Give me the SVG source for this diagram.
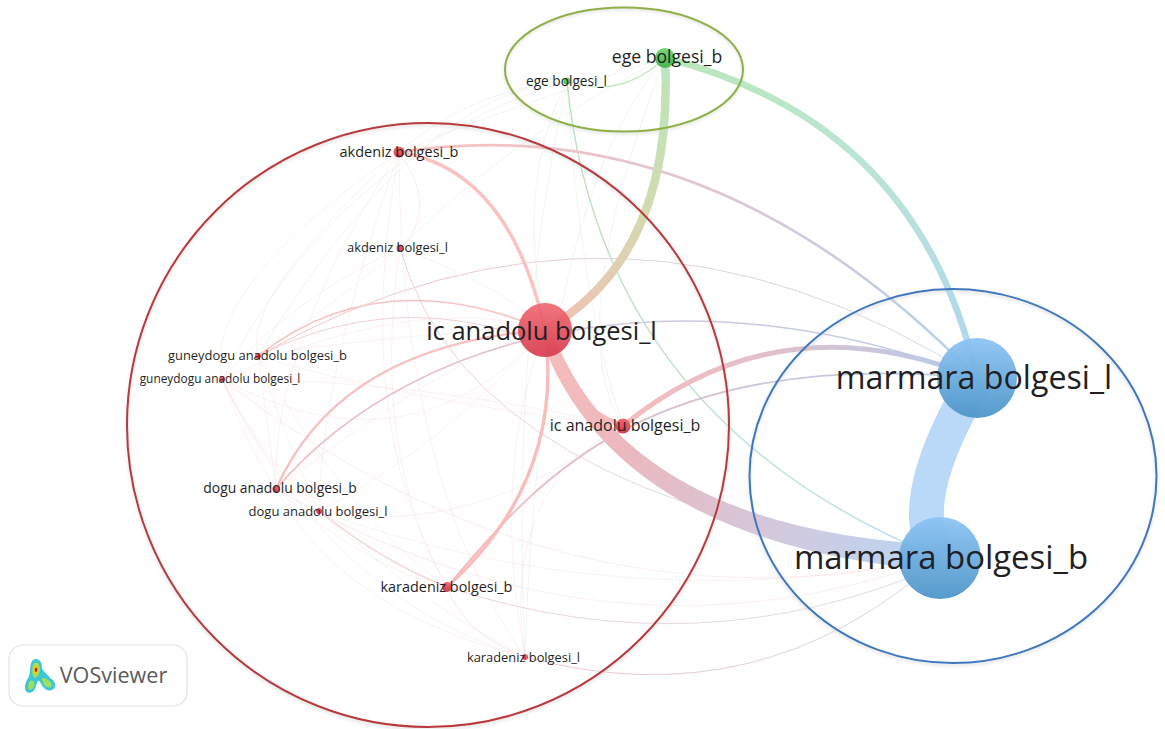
<svg xmlns="http://www.w3.org/2000/svg" width="1165" height="729" viewBox="0 0 1165 729">
<style>
text{font-family:"Open Sans","Noto Sans","Liberation Sans",sans-serif;fill:#1f1f24;text-anchor:middle}
.e{fill:none;stroke-linecap:butt}
.f{fill:none;stroke:#f2c4c4;stroke-width:1;stroke-opacity:.22}
.g{fill:none;stroke:#b6d8ae;stroke-width:1;stroke-opacity:.2}
.t{fill:none;stroke:#e9a9ae;stroke-width:1.1;stroke-opacity:.5}
.l{stroke-opacity:.18}
.ring{fill:none;stroke-width:2}
.sh{fill:none;stroke:#8a8a8a;stroke-width:3;stroke-opacity:.2;filter:url(#blur)}
.r{fill:url(#nr)}.b{fill:url(#nb)}.n{fill:url(#ng)}
</style>
<defs>
<filter id="blur" x="-5%" y="-5%" width="110%" height="110%"><feGaussianBlur stdDeviation="1.5"/></filter>
<linearGradient id="nr" x1="0" y1="0" x2="0" y2="1"><stop offset="0" stop-color="#f06a72"/><stop offset="1" stop-color="#d63a4c"/></linearGradient>
<linearGradient id="nb" x1="0" y1="0" x2="0" y2="1"><stop offset="0" stop-color="#8ec4f4"/><stop offset="1" stop-color="#4d95c9"/></linearGradient>
<linearGradient id="ng" x1="0" y1="0" x2="0" y2="1"><stop offset="0" stop-color="#7ad77c"/><stop offset="1" stop-color="#45b54c"/></linearGradient>
<linearGradient id="g1" gradientUnits="userSpaceOnUse" x1="545" y1="330" x2="940" y2="558"><stop offset="0" stop-color="#f8bcbc"/><stop offset=".3" stop-color="#eab8be"/><stop offset=".65" stop-color="#d4c8dc"/><stop offset="1" stop-color="#b8d6f5"/></linearGradient>
<linearGradient id="g2" gradientUnits="userSpaceOnUse" x1="665" y1="58" x2="545" y2="330"><stop offset="0" stop-color="#bce6bc"/><stop offset=".45" stop-color="#cfdcb0"/><stop offset="1" stop-color="#f3c0b4"/></linearGradient>
<linearGradient id="g3" gradientUnits="userSpaceOnUse" x1="665" y1="58" x2="977" y2="378"><stop offset="0" stop-color="#bae8ba"/><stop offset=".5" stop-color="#bae4d6"/><stop offset="1" stop-color="#b0d6f0"/></linearGradient>
<linearGradient id="g4" gradientUnits="userSpaceOnUse" x1="399" y1="152" x2="977" y2="378"><stop offset="0" stop-color="#f9c0c0"/><stop offset=".5" stop-color="#dec6d2"/><stop offset="1" stop-color="#b4d2ee"/></linearGradient>
<linearGradient id="g5" gradientUnits="userSpaceOnUse" x1="623" y1="426" x2="977" y2="378"><stop offset="0" stop-color="#f8bcbc"/><stop offset=".45" stop-color="#dfc0cc"/><stop offset="1" stop-color="#b4cceb"/></linearGradient>
<linearGradient id="g6" gradientUnits="userSpaceOnUse" x1="447" y1="587" x2="977" y2="378"><stop offset="0" stop-color="#f5baba"/><stop offset=".4" stop-color="#dcc0cf"/><stop offset="1" stop-color="#bccee8"/></linearGradient>
<linearGradient id="g7" gradientUnits="userSpaceOnUse" x1="276" y1="489" x2="977" y2="378"><stop offset="0" stop-color="#f2bcc0"/><stop offset=".5" stop-color="#d5c8dc"/><stop offset="1" stop-color="#b8cee9"/></linearGradient>
<linearGradient id="g8" gradientUnits="userSpaceOnUse" x1="258" y1="356" x2="977" y2="378"><stop offset="0" stop-color="#f4c4c4"/><stop offset="1" stop-color="#ccdcf0"/></linearGradient>
<linearGradient id="g9" gradientUnits="userSpaceOnUse" x1="567" y1="81" x2="940" y2="558"><stop offset="0" stop-color="#b8e2b6"/><stop offset=".6" stop-color="#bce2d0"/><stop offset="1" stop-color="#bcdcf0"/></linearGradient>
<linearGradient id="g10" gradientUnits="userSpaceOnUse" x1="447" y1="587" x2="940" y2="570"><stop offset="0" stop-color="#f0d0d4"/><stop offset="1" stop-color="#d8e0f0"/></linearGradient>
<linearGradient id="g11" gradientUnits="userSpaceOnUse" x1="525" y1="657" x2="940" y2="558"><stop offset="0" stop-color="#f2c4c8"/><stop offset="1" stop-color="#d0d8ee"/></linearGradient>
<linearGradient id="g12" gradientUnits="userSpaceOnUse" x1="400" y1="248" x2="940" y2="558"><stop offset="0" stop-color="#f4d0d0"/><stop offset="1" stop-color="#d4e0f0"/></linearGradient>
</defs>

<g id="clusters">
<ellipse class="sh" cx="428" cy="427" rx="301" ry="302"/>
<ellipse class="sh" cx="624" cy="71" rx="119" ry="62"/>
<ellipse class="sh" cx="953" cy="478" rx="203.5" ry="187"/>
</g>

<g id="connectors">
<path class="f" d="M399 152Q240 300 258 356"/>
<path class="f" d="M399 152Q200 290 222 379"/>
<path class="f" d="M399 152Q270 350 276 489"/>
<path class="f" d="M399 152Q320 380 319 511"/>
<path class="f" d="M399 152Q350 420 447 587"/>
<path class="f" d="M399 152Q400 480 525 657"/>
<path class="t l" d="M399 152Q440 210 400 248"/>
<path class="f" d="M400 248Q340 300 258 356"/>
<path class="f" d="M400 248Q290 300 222 379"/>
<path class="f" d="M400 248Q510 290 545 330"/>
<path class="f" d="M400 248Q370 450 447 587"/>
<path class="f" d="M258 356Q270 440 276 489"/>
<path class="f" d="M258 356Q290 450 319 511"/>
<path class="f" d="M258 356Q350 520 447 587"/>
<path class="f" d="M258 356Q400 400 623 426"/>
<path class="f" d="M222 379Q250 450 276 489"/>
<path class="f" d="M222 379Q260 460 319 511"/>
<path class="f" d="M222 379Q300 530 447 587"/>
<path class="f" d="M222 379Q330 600 525 657"/>
<path class="f" d="M222 379Q420 290 545 330"/>
<path class="f" d="M222 379Q420 380 623 426"/>
<path class="f" d="M276 489Q340 610 525 657"/>
<path class="f" d="M276 489Q370 570 447 587"/>
<path class="t l" d="M276 489Q340 500 319 511"/>
<path class="f" d="M319 511Q470 540 623 426"/>
<path class="f" d="M319 511Q430 610 525 657"/>
<path class="t" d="M319 511Q380 560 447 587"/>
<path class="t l" d="M447 587Q465 635 525 657"/>
<path class="f" d="M525 657Q500 490 623 426"/>
<path class="f" d="M525 657Q490 470 545 330"/>
<path class="f" d="M276 489Q460 350 545 330"/>
<path class="f" d="M258 356Q420 330 545 330"/>
<path class="f" d="M545 330Q440 450 319 511"/>
<path class="f" d="M545 330Q410 480 222 379"/>
<path class="f" d="M319 511Q620 620 940 558"/>
<path class="t l" d="M276 489Q610 680 940 558"/>
<path class="t l" d="M222 379Q560 640 940 558"/>
<path class="g" d="M665 58Q500 110 399 152"/>
<path class="g" d="M665 58Q520 130 400 248"/>
<path class="g" d="M665 58Q540 200 525 657"/>
<path class="g" d="M665 58Q560 330 623 426"/>
<path class="g" d="M567 81Q470 90 399 152"/>
<path class="g" d="M567 81Q420 90 258 356"/>
<path class="g" d="M567 81Q515 180 545 330"/>
<path class="g" d="M567 81Q580 300 623 426"/>
<path class="g" d="M567 81Q510 340 525 657"/>
<path class="g" d="M567 81Q340 150 222 379"/>
<path class="e" stroke="#c6e6c0" stroke-width="1.3" d="M567 81Q620 100 665 58"/>

<path class="e" stroke="url(#g9)" stroke-width="1.4" d="M567 81Q600 420 940 558"/>
<path class="e" stroke="url(#g12)" stroke-width="1" d="M400 248Q470 500 940 558"/>
<path class="e" stroke="url(#g8)" stroke-width="1" d="M258 356Q620 150 977 378"/>
<path class="e" stroke="#f7c2c2" stroke-width="1.6" d="M258 356Q380 260 545 330"/>
<path class="e" stroke="#f0d0d4" stroke-width="1.1" d="M258 356Q400 285 545 345"/>
<path class="e" stroke="#f8c0c0" stroke-width="2.4" d="M276 489Q340 345 545 330"/>
<path class="e" stroke="url(#g7)" stroke-width="1.6" d="M276 489C420 320 700 270 977 378"/>
<path class="e" stroke="url(#g6)" stroke-width="1.8" d="M447 587C530 490 640 345 977 378"/>
<path class="e" stroke="url(#g10)" stroke-width="1" d="M447 587Q700 670 940 565"/>
<path class="e" stroke="url(#g11)" stroke-width="1" d="M525 657Q760 720 940 558"/>
<path class="e" stroke="#f8bebe" stroke-width="3.4" d="M447 587Q565 480 545 330"/>
<path class="e" stroke="#fac2c2" stroke-width="3.5" d="M399 152Q510 170 545 330"/>
<path class="e" stroke="url(#g4)" stroke-width="2.6" d="M399 152Q712 105 977 378"/>
<path class="e" stroke="url(#g5)" stroke-width="5" d="M623 426Q780 298 977 378"/>
<path class="e" stroke="url(#g3)" stroke-width="6.5" d="M665 58Q919 122 977 378"/>
<path class="e" stroke="url(#g2)" stroke-width="8.5" d="M665 58Q675 256 545 330"/>
<path class="e" stroke="#f8bebe" stroke-width="5" d="M545 330Q555 400 623 426"/>
<path fill="url(#g1)" d="M551 328Q624 529 941 545L939 571Q610 543 539 332Z"/>
<path class="e" stroke="#bad9f8" stroke-width="35" d="M977 378Q900 506 940 558"/>
</g>

<g id="rings">
<ellipse class="ring" cx="428" cy="425" rx="301" ry="302" stroke="#b83a3d"/>
<ellipse class="ring" cx="624" cy="69.500" rx="119" ry="62" stroke="#8fb044"/>
<ellipse class="ring" cx="953" cy="476" rx="203.500" ry="187" stroke="#3f78bf"/>
</g>

<g id="ege_b"><circle class="n" cx="665" cy="58" r="10"/><text x="667" y="63" font-size="17.600">ege bolgesi_b</text></g>
<g id="ege_l"><circle class="n" cx="567" cy="81" r="3.500"/><text x="566.500" y="86" font-size="13.700">ege bolgesi_l</text></g>
<g id="akdeniz_b"><circle class="r" cx="399" cy="152" r="5.500"/><text x="399" y="157" font-size="14.500">akdeniz bolgesi_b</text></g>
<g id="akdeniz_l"><circle class="r" cx="400" cy="248" r="3.500"/><text x="397.500" y="252" font-size="12.900">akdeniz bolgesi_l</text></g>
<g id="ic_l"><circle class="r" cx="545" cy="330" r="27" fill-opacity=".92"/><text x="541.500" y="340" font-size="25.500">ic anadolu bolgesi_l</text></g>
<g id="ic_b"><circle class="r" cx="623" cy="426" r="7.500"/><text x="625" y="431" font-size="16">ic anadolu bolgesi_b</text></g>
<g id="guneydogu_b"><circle class="r" cx="258" cy="356" r="3"/><text x="257.500" y="360" font-size="12.900">guneydogu anadolu bolgesi_b</text></g>
<g id="guneydogu_l"><circle class="r" cx="222" cy="379" r="3"/><text x="220" y="383" font-size="11.900">guneydogu anadolu bolgesi_l</text></g>
<g id="dogu_b"><circle class="r" cx="276" cy="489" r="3.500"/><text x="280" y="493" font-size="13.900">dogu anadolu bolgesi_b</text></g>
<g id="dogu_l"><circle class="r" cx="319" cy="511" r="3"/><text x="318" y="516" font-size="13">dogu anadolu bolgesi_l</text></g>
<g id="karadeniz_b"><circle class="r" cx="447" cy="587" r="5"/><text x="446.500" y="592" font-size="14.400">karadeniz bolgesi_b</text></g>
<g id="karadeniz_l"><circle class="r" cx="525" cy="657" r="3"/><text x="523.500" y="662" font-size="12.850">karadeniz bolgesi_l</text></g>
<g id="marmara_l"><circle class="b" cx="977" cy="378" r="40" fill-opacity=".95"/><text x="974" y="389" font-size="32.200">marmara bolgesi_l</text></g>
<g id="marmara_b"><circle class="b" cx="940" cy="558" r="41" fill-opacity=".95"/><text x="941" y="569" font-size="32.900">marmara bolgesi_b</text></g>

<g id="vosviewer">
<rect x="9" y="645" width="178" height="61" rx="14" fill="#fff" stroke="#e3e3e3" stroke-width="1.200"/>
<path d="M33 660C38 657 42 661 42 668C43 672 47 673 50 678C56 681 57 688 52 690C47 692 43 688 40 682C38 679 37 682 36 686C35 692 29 695 26 691C23 687 27 680 29 676C31 671 29 664 33 660Z" fill="#3cc7d8"/>
<path d="M34 663C38 661 40 665 40 669C40 673 38 677 35 678C32 678 31 668 34 663ZM42 678C47 677 54 684 51 687C47 689 42 684 42 678ZM29 682C32 679 35 681 34 686C33 690 29 691 28 688Z" fill="#9fe05a"/>
<path d="M34 666C37 664 39 667 38 671C37 675 34 675 33 672Z" fill="#f5c518"/>
<path d="M35 668C37 667 38 669 37 671C36 673 34 672 35 668Z" fill="#c9220f"/>
<text x="113.500" y="683" font-size="21.600" style="fill:#5a5a5a">VOSviewer</text>
</g>
</svg>
